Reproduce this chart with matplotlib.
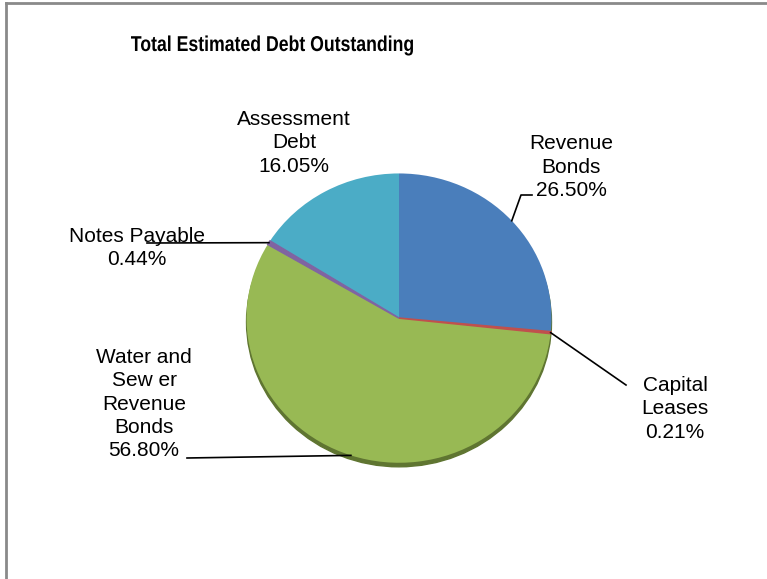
import matplotlib
matplotlib.use('Agg')
import matplotlib.pyplot as plt
import numpy as np
from matplotlib.lines import Line2D
from matplotlib.patches import Ellipse, PathPatch
from matplotlib.textpath import TextPath
from matplotlib.font_manager import FontProperties
from matplotlib.transforms import Affine2D

plt.rcParams['font.family'] = ['Liberation Sans', 'DejaVu Sans']

# data
title = 'Total Estimated Debt Outstanding'
categories = ['Revenue Bonds', 'Capital Leases', 'Water and Sewer Revenue Bonds',
              'Notes Payable', 'Assessment Debt']
shares = [26.50, 0.21, 56.80, 0.44, 16.05]
label_text = ['Revenue\nBonds', 'Capital\nLeases', 'Water and\nSew er\nRevenue\nBonds',
              'Notes Payable', 'Assessment\nDebt']
colors = ['#4A7EBB', '#C0504D', '#98B954', '#8064A2', '#4BACC6']

# layout (pixels from top-left), kept apart from the data
W, H = 767, 579
label_pos = [(571, 167), (675, 409), (144, 404), (137, 248), (294, 143)]
leader_ends = [[(521, 195), (532, 195)], [(626, 385)], [(187, 458)], [(147, 243)], None]


def px(x, y):
    return x / W, 1 - y / H


fig = plt.figure(figsize=(W / 100, H / 100), dpi=100)

# chart area border (only left and top are visible in the crop)
fig.add_artist(Line2D([5.5 / W, 5.5 / W], [-0.1, 1 - 3 / H], color='#8a8a8a', lw=2))
fig.add_artist(Line2D([5.5 / W, 1.1], [1 - 3 / H, 1 - 3 / H], color='#8a8a8a', lw=2))

# title is drawn as a horizontally squeezed text path (narrow bold look)
tp = TextPath((0, 0), title, size=21.5,
              prop=FontProperties(family='Liberation Sans', weight='bold'))
ext = tp.get_extents()
sx = 282 / ext.width
tr = Affine2D().translate(-ext.x0 - ext.width / 2, 0).scale(sx, 1).translate(272, H - 51)
fig.add_artist(PathPatch(tp, transform=tr, facecolor='black', edgecolor='none'))

# pie axes: left 245, right 553, top 172, bottom 470
l, r, t, b = 245, 553, 172, 470
ax = fig.add_axes([l / W, 1 - b / H, (r - l) / W, (b - t) / H])
ax.add_patch(Ellipse((0.0, -0.028), 2.0, 2.0, color='#5f7531', zorder=0))
wedges, _ = ax.pie(shares, colors=colors, startangle=90, counterclock=False,
                   radius=1.0, wedgeprops=dict(linewidth=0))
for w, c, s in zip(wedges, colors, shares):
    if s < 1:
        w.set_edgecolor(c)
        w.set_linewidth(1.2)
        w.set_zorder(3)
ax.set_aspect('auto')
ax.set_xlim(-1.01, 1.01)
ax.set_ylim(-1.05, 1.01)
ax.axis('off')

fig.canvas.draw()
to_fig = ax.transData + fig.transFigure.inverted()

for w, txt, s, pos, ends in zip(wedges, label_text, shares, label_pos, leader_ends):
    fig.text(*px(*pos), '%s\n%.2f%%' % (txt, s), ha='center', va='center',
             fontsize=15, linespacing=1.27)
    if ends is None:
        continue
    mid = np.deg2rad((w.theta1 + w.theta2) / 2)
    ax_pt = to_fig.transform((np.cos(mid), np.sin(mid)))
    xs = [ax_pt[0]] + [px(*e)[0] for e in ends]
    ys = [ax_pt[1]] + [px(*e)[1] for e in ends]
    fig.add_artist(Line2D(xs, ys, color='black', lw=1.2))

fig.savefig('out.png', dpi=100)
